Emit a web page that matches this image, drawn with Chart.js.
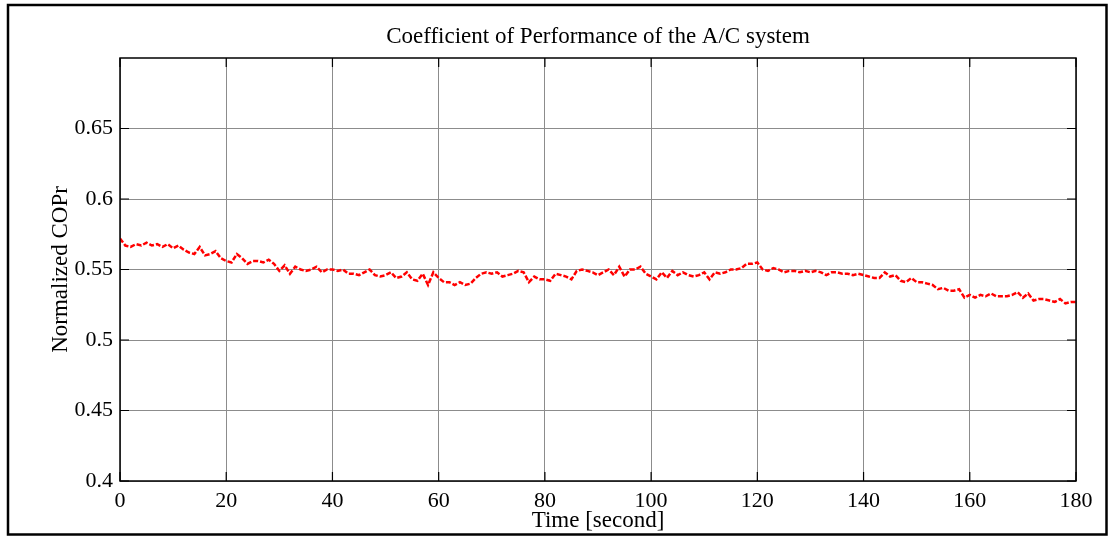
<!DOCTYPE html>
<html>
<head>
<meta charset="utf-8">
<script src="https://cdn.jsdelivr.net/npm/chart.js@4.4.1/dist/chart.umd.min.js"></script>
<style>
  html, body { margin: 0; padding: 0; background: #fff; }
  #wrap { width: 1108px; height: 536px; }
</style>
</head>
<body>
<div id="wrap"><canvas id="copChart" width="1108" height="536"></canvas></div>
<script>
// Normalized COPr sampled once per second, 0..180 s
const sampleStep = 1;
const copr = [
  0.572, 0.567, 0.566, 0.568, 0.567, 0.569, 0.567, 0.568, 0.566, 0.568,
  0.565, 0.567, 0.564, 0.562, 0.561, 0.566, 0.560, 0.561, 0.563, 0.558,
  0.556, 0.555, 0.561, 0.558, 0.554, 0.556, 0.556, 0.555, 0.557, 0.554,
  0.549, 0.553, 0.547, 0.552, 0.550, 0.549, 0.550, 0.552, 0.548, 0.550,
  0.550, 0.549, 0.550, 0.547, 0.547, 0.546, 0.548, 0.550, 0.546, 0.545,
  0.546, 0.548, 0.544, 0.545, 0.548, 0.543, 0.542, 0.547, 0.539, 0.548,
  0.544, 0.541, 0.541, 0.539, 0.541, 0.539, 0.540, 0.544, 0.547, 0.548,
  0.547, 0.548, 0.545, 0.546, 0.547, 0.549, 0.548, 0.541, 0.545, 0.543,
  0.543, 0.542, 0.547, 0.546, 0.545, 0.543, 0.549, 0.550, 0.549, 0.548,
  0.546, 0.548, 0.550, 0.546, 0.552, 0.545, 0.550, 0.550, 0.552, 0.547,
  0.545, 0.543, 0.548, 0.544, 0.549, 0.546, 0.548, 0.546, 0.545, 0.546,
  0.548, 0.543, 0.548, 0.547, 0.548, 0.550, 0.550, 0.551, 0.554, 0.554,
  0.555, 0.550, 0.549, 0.551, 0.550, 0.548, 0.549, 0.549, 0.548, 0.549,
  0.548, 0.549, 0.548, 0.546, 0.548, 0.548, 0.547, 0.547, 0.546, 0.547,
  0.546, 0.545, 0.544, 0.544, 0.548, 0.545, 0.546, 0.542, 0.541, 0.544,
  0.541, 0.541, 0.540, 0.539, 0.536, 0.537, 0.535, 0.535, 0.536, 0.530,
  0.532, 0.530, 0.532, 0.531, 0.533, 0.531, 0.531, 0.531, 0.532, 0.534,
  0.530, 0.533, 0.528, 0.529, 0.529, 0.528, 0.527, 0.529, 0.526, 0.527,
  0.527
];

const xTicks = [0, 20, 40, 60, 80, 100, 120, 140, 160, 180];
const yTicks = [0.4, 0.45, 0.5, 0.55, 0.6, 0.65];
const titleText = 'Coefficient of Performance of the A/C system';

const FONT = "'Liberation Serif', 'Times New Roman', serif";

// title, box, inward tick marks and the outer frame
const matlabFrame = {
  id: 'matlabFrame',
  afterDraw(chart) {
    const ctx = chart.ctx;
    const a = chart.chartArea;
    const xs = chart.scales.x, ys = chart.scales.y;
    ctx.save();
    ctx.strokeStyle = '#000';
    ctx.lineWidth = 1.5;
    ctx.strokeRect(a.left, a.top, a.right - a.left, a.bottom - a.top);
    ctx.lineWidth = 1.2;
    ctx.beginPath();
    xs.ticks.forEach((t, i) => {
      const px = xs.getPixelForTick(i);
      ctx.moveTo(px, a.bottom); ctx.lineTo(px, a.bottom - 9);
      ctx.moveTo(px, a.top); ctx.lineTo(px, a.top + 9);
    });
    ys.ticks.forEach((t, i) => {
      const py = ys.getPixelForTick(i);
      ctx.moveTo(a.left, py); ctx.lineTo(a.left + 9, py);
      ctx.moveTo(a.right, py); ctx.lineTo(a.right - 9, py);
    });
    ctx.stroke();

    ctx.lineWidth = 2.5;
    ctx.strokeRect(8, 5, 1098.5, 529.5);

    ctx.fillStyle = '#000';
    ctx.font = '23px ' + FONT;
    ctx.textAlign = 'center';
    ctx.textBaseline = 'middle';
    ctx.fillText(titleText, (a.left + a.right) / 2, 37);
    ctx.restore();
  }
};

new Chart(document.getElementById('copChart'), {
  type: 'line',
  data: {
    datasets: [{
      label: 'COPr',
      data: copr.map((v, i) => ({ x: i * sampleStep, y: v })),
      borderColor: '#ff0000',
      borderWidth: 2.5,
      borderDash: [5, 2],
      pointRadius: 0,
      tension: 0,
      fill: false
    }]
  },
  options: {
    responsive: false,
    animation: false,
    layout: { padding: { top: 58, right: 32, left: 0, bottom: 0 } },
    plugins: {
      legend: { display: false },
      tooltip: { enabled: false },
      title: { display: false }
    },
    scales: {
      x: {
        type: 'linear',
        min: 0,
        max: 180,
        afterBuildTicks: s => { s.ticks = xTicks.map(v => ({ value: v })); },
        afterFit: s => { s.height = 55; },
        grid: { color: '#8c8c8c', lineWidth: 1, drawTicks: false },
        border: { display: false },
        ticks: {
          color: '#000',
          padding: 7,
          maxRotation: 0,
          font: { family: FONT, size: 22 },
          callback: v => String(v)
        },
        title: {
          display: true,
          text: 'Time [second]',
          color: '#000',
          font: { family: FONT, size: 23 },
          padding: { top: 0, bottom: 1 }
        }
      },
      y: {
        min: 0.4,
        max: 0.7,
        afterBuildTicks: s => { s.ticks = yTicks.map(v => ({ value: v })); },
        afterFit: s => { s.width = 120; },
        grid: { color: '#8c8c8c', lineWidth: 1, drawTicks: false },
        border: { display: false },
        ticks: {
          color: '#000',
          padding: 7,
          font: { family: FONT, size: 22 },
          callback: v => String(parseFloat(v.toFixed(2)))
        },
        title: {
          display: true,
          text: 'Normalized COPr',
          color: '#000',
          font: { family: FONT, size: 23 },
          padding: { top: 47, bottom: 0 }
        }
      }
    }
  },
  plugins: [matlabFrame]
});
</script>
</body>
</html>
